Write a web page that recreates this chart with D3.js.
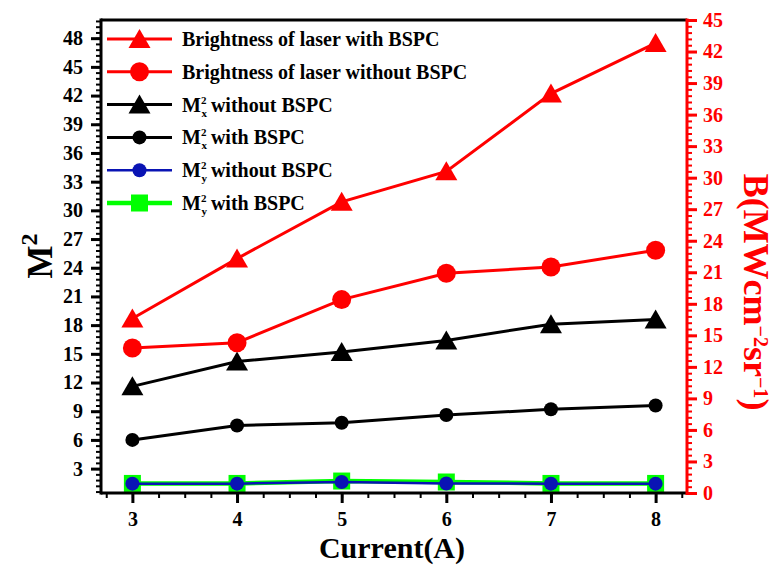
<!DOCTYPE html>
<html>
<head>
<meta charset="UTF-8">
<script src="https://d3js.org/d3.v7.min.js"></script>
<style>
body { margin: 0; background: #fff; }
text { font-family: "Liberation Serif", "Times New Roman", serif; font-weight: bold; }
</style>
</head>
<body>
<svg width="776" height="565"></svg>
<script>
// data
var current = [3, 4, 5, 6, 7, 8];
var brightWith = [16.6, 22.3, 27.7, 30.6, 38.0, 42.8];      // right axis
var brightWithout = [13.8, 14.3, 18.4, 20.9, 21.5, 23.1];   // right axis
var mxWithout = [11.6, 14.2, 15.2, 16.4, 18.1, 18.6];       // left axis
var mxWith = [6.0, 7.5, 7.8, 8.6, 9.2, 9.6];
var myWithout = [1.43, 1.43, 1.6, 1.45, 1.43, 1.43];
var myWith = [1.45, 1.45, 1.7, 1.6, 1.45, 1.45];
var xTicks = [3, 4, 5, 6, 7, 8];
var leftTicks = [3, 6, 9, 12, 15, 18, 21, 24, 27, 30, 33, 36, 39, 42, 45, 48];
var rightTicks = [0, 3, 6, 9, 12, 15, 18, 21, 24, 27, 30, 33, 36, 39, 42, 45];

var svg = d3.select("svg");
var L = 101, R = 687, T = 20, B = 493;

var x = d3.scaleLinear().domain([2.7, 8.3]).range([L, R]);
var yL = d3.scaleLinear().domain([0.45, 49.9]).range([B, T]);
var yR = d3.scaleLinear().domain([0, 45]).range([B, T]);

var series = [
  {label: "Brightness of laser with BSPC", vals: brightWith, y: yR, color: "#ff0000", shape: "tri", lw: 3},
  {label: "Brightness of laser without BSPC", vals: brightWithout, y: yR, color: "#ff0000", shape: "bigcircle", lw: 3},
  {m: "x", rest: "without BSPC", vals: mxWithout, y: yL, color: "#000000", shape: "tri", lw: 3},
  {m: "x", rest: "with BSPC", vals: mxWith, y: yL, color: "#000000", shape: "circle", lw: 3},
  {m: "y", rest: "without BSPC", vals: myWithout, y: yL, color: "#0a14b4", shape: "circle", lw: 2.5},
  {m: "y", rest: "with BSPC", vals: myWith, y: yL, color: "#00ff00", shape: "square", lw: 4.5}
];

function marker(g, s) {
  if (s.shape == "tri") {
    g.append("path").attr("d", "M0,-10L11,9L-11,9Z").attr("fill", s.color);
  } else if (s.shape == "bigcircle") {
    g.append("circle").attr("r", 9.5).attr("fill", s.color);
  } else if (s.shape == "circle") {
    g.append("circle").attr("r", 7).attr("fill", s.color);
  } else {
    g.append("rect").attr("x", -8.5).attr("y", -8.5).attr("width", 17).attr("height", 17).attr("fill", s.color);
  }
}

// series, bottom one drawn first
series.slice().reverse().forEach(function(s) {
  var pts = current.map(function(c, i) { return [c, s.vals[i]]; });
  svg.append("path")
    .datum(pts)
    .attr("fill", "none")
    .attr("stroke", s.color)
    .attr("stroke-width", s.lw)
    .attr("d", d3.line().x(function(d) { return x(d[0]); }).y(function(d) { return s.y(d[1]); }));
  svg.selectAll(null).data(pts).enter().append("g")
    .attr("transform", function(d) { return "translate(" + x(d[0]) + "," + s.y(d[1]) + ")"; })
    .each(function() { marker(d3.select(this), s); });
});

// axes
function styleAxis(g, color, fs) {
  g.select(".domain").remove();
  g.selectAll("line").attr("stroke", color);
  g.selectAll("text").attr("fill", color).style("font-size", fs + "px");
}

var gl = svg.append("g").attr("transform", "translate(" + L + ",0)");
gl.call(d3.axisLeft(yL).tickValues(d3.range(0.6, 49.9, 0.6)).tickSize(5).tickFormat(""));
styleAxis(gl, "#000", 20); gl.selectAll("line").attr("stroke-width", 2);
var gl2 = svg.append("g").attr("transform", "translate(" + L + ",0)");
gl2.call(d3.axisLeft(yL).tickValues(leftTicks).tickSize(10).tickPadding(8));
styleAxis(gl2, "#000", 20); gl2.selectAll("line").attr("stroke-width", 3);

var gr = svg.append("g").attr("transform", "translate(" + R + ",0)");
gr.call(d3.axisRight(yR).tickValues(d3.range(0.6, 45, 0.6)).tickSize(5).tickFormat(""));
styleAxis(gr, "#ff0000", 20); gr.selectAll("line").attr("stroke-width", 2);
var gr2 = svg.append("g").attr("transform", "translate(" + R + ",0)");
gr2.call(d3.axisRight(yR).tickValues(rightTicks).tickSize(10).tickPadding(6));
styleAxis(gr2, "#ff0000", 20); gr2.selectAll("line").attr("stroke-width", 3);

var gb = svg.append("g").attr("transform", "translate(0," + B + ")");
gb.call(d3.axisBottom(x).tickValues(d3.range(2.75, 8.3, 0.25)).tickSize(5).tickFormat(""));
styleAxis(gb, "#000", 20); gb.selectAll("line").attr("stroke-width", 2);
var gb2 = svg.append("g").attr("transform", "translate(0," + B + ")");
gb2.call(d3.axisBottom(x).tickValues(xTicks).tickSize(10).tickPadding(9).tickFormat(d3.format("d")));
styleAxis(gb2, "#000", 20); gb2.selectAll("line").attr("stroke-width", 3);

// frame
svg.append("line").attr("x1", L).attr("x2", R).attr("y1", T).attr("y2", T).attr("stroke", "#000").attr("stroke-width", 3);
svg.append("line").attr("x1", L).attr("x2", L).attr("y1", T - 1.5).attr("y2", B + 1.5).attr("stroke", "#000").attr("stroke-width", 3);
svg.append("line").attr("x1", L).attr("x2", R).attr("y1", B).attr("y2", B).attr("stroke", "#000").attr("stroke-width", 3);
svg.append("line").attr("x1", R).attr("x2", R).attr("y1", T - 1.5).attr("y2", B + 2).attr("stroke", "#ff0000").attr("stroke-width", 3);

// axis titles
svg.append("text").attr("x", 392).attr("y", 558).attr("text-anchor", "middle")
  .style("font-size", "30px").text("Current(A)");

var lt = svg.append("text").attr("transform", "translate(52,256) rotate(-90)")
  .attr("text-anchor", "middle").style("font-size", "35px");
lt.append("tspan").text("M");
lt.append("tspan").attr("dy", -15).style("font-size", "24px").text("2");

var rt = svg.append("text").attr("transform", "translate(744,292) rotate(90)")
  .attr("text-anchor", "middle").style("font-size", "36px").attr("fill", "#ff0000");
rt.append("tspan").text("B(MWcm");
rt.append("tspan").attr("dy", -10).style("font-size", "20px").text("\u22122");
rt.append("tspan").attr("dy", 10).text("sr");
rt.append("tspan").attr("dy", -10).style("font-size", "20px").text("\u22121");
rt.append("tspan").attr("dy", 10).text(")");

// legend
var legend = svg.append("g");
series.forEach(function(s, i) {
  var cy = 39 + i * 32.8;
  var g = legend.append("g").attr("transform", "translate(0," + cy + ")");
  g.append("line").attr("x1", 107).attr("x2", 172).attr("stroke", s.color).attr("stroke-width", s.lw);
  var mg = g.append("g").attr("transform", "translate(139.5,0)");
  marker(mg, s);
  var t = g.append("text").attr("x", 182).attr("y", 7).style("font-size", "20px");
  if (s.label) {
    t.text(s.label);
  } else {
    var m = t.append("tspan").text("M");
    var w = m.node().getComputedTextLength();
    t.append("tspan").attr("dy", -8).style("font-size", "11px").text("2");
    t.append("tspan").attr("x", 182 + w + 0.5).attr("dy", 13).style("font-size", "11px").text(s.m);
    t.append("tspan").attr("x", 182 + w + 10).attr("dy", -5).text(s.rest);
  }
});
</script>
</body>
</html>
